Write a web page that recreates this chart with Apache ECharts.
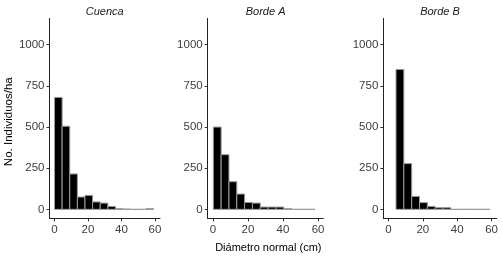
<!DOCTYPE html>
<html>
<head>
<meta charset="utf-8">
<script src="https://cdn.jsdelivr.net/npm/echarts@6/dist/echarts.min.js"></script>
<style>
html, body { margin: 0; padding: 0; background: #fff; }
#main { width: 503px; height: 258px; }
</style>
</head>
<body>
<div id="main"></div>
<script>
// paneles
var panelNames = ['Cuenca', 'Borde A', 'Borde B'];

// limites de clases (cm) por panel
var edgesCuenca = [0, 4.55, 9.1, 13.65, 18.2, 22.75, 27.3, 31.85, 36.4, 40.95, 45.5, 50.05, 54.6, 59.15];
var edgesBordeA = [0.2, 4.67, 9.14, 13.61, 18.08, 22.55, 27.02, 31.49, 35.96, 40.43, 44.9, 49.37, 53.84, 58.31];
var edgesBordeB = [4.4, 8.96, 13.52, 18.08, 22.64, 27.2, 31.76, 36.32, 40.88, 45.44, 50.0, 54.56, 59.12];

// individuos/ha por clase
var countsCuenca = [680, 505, 215, 75, 85, 45, 38, 18, 4, 2, 0, 0, 4];
var countsBordeA = [500, 332, 168, 93, 42, 38, 14, 14, 14, 4, 0, 0, 0];
var countsBordeB = [850, 278, 79, 41, 18, 10, 10, 0, 0, 0, 0, 0];

var xTicks = [0, 20, 40, 60];
var yTicks = [0, 250, 500, 750, 1000];

var fontFam = '"Liberation Sans", Arial, sans-serif';

//armar datos [x0, x1, y]
function buildBins(edges, counts) {
	var out = [];
	for (var i = 0; i < counts.length; i++) {
		out.push([edges[i], edges[i + 1], counts[i]]);
	}
	return out;
}

function renderBin(params, api) {
	var p0 = api.coord([api.value(0), api.value(2)]);
	var p1 = api.coord([api.value(1), 0]);
	return {
		type : 'rect',
		shape : {
			x : p0[0],
			y : p0[1],
			width : p1[0] - p0[0],
			height : p1[1] - p0[1]
		},
		style : {
			fill : '#000',
			stroke : '#9c9c9c',
			lineWidth : 1
		}
	};
}

function plainNum(v) {
	return String(v);
}

var grids = [
	{ left : 49.5, top : 18.4, width : 110.5, height : 200 },
	{ left : 207.7, top : 18.4, width : 115.6, height : 200 },
	{ left : 383.3, top : 18.4, width : 113.4, height : 200 }
];

var xAxes = [], yAxes = [], series = [];
var allData = [
	buildBins(edgesCuenca, countsCuenca),
	buildBins(edgesBordeA, countsBordeA),
	buildBins(edgesBordeB, countsBordeB)
];

for (var i = 0; i < 3; i++) {
	xAxes.push({
		type : 'value',
		gridIndex : i,
		min : -3,
		max : 63,
		splitLine : { show : false },
		axisLine : { onZero : false, lineStyle : { color : '#222', width : 1 } },
		axisTick : { show : true, length : 3, customValues : xTicks, lineStyle : { color : '#333' } },
		axisLabel : { customValues : xTicks, formatter : plainNum, margin : 5, color : '#3d3d3d', fontSize : 11.5, fontFamily : fontFam }
	});
	yAxes.push({
		type : 'value',
		gridIndex : i,
		min : -55,
		max : 1160,
		splitLine : { show : false },
		axisLine : { show : true, onZero : false, lineStyle : { color : '#222', width : 1 } },
		axisTick : { show : true, length : 3, customValues : yTicks, lineStyle : { color : '#333' } },
		axisLabel : { customValues : yTicks, formatter : plainNum, margin : 5, color : '#3d3d3d', fontSize : 11.5, fontFamily : fontFam }
	});
	series.push({
		type : 'custom',
		xAxisIndex : i,
		yAxisIndex : i,
		renderItem : renderBin,
		encode : { x : [0, 1], y : 2 },
		data : allData[i],
		silent : true
	});
}

var titleX = [104.7, 265.6, 440];
var graphics = [];
for (var j = 0; j < 3; j++) {
	graphics.push({
		type : 'text',
		x : titleX[j],
		y : 11.7,
		style : {
			text : panelNames[j],
			fontSize : 11,
			fontStyle : 'italic',
			fontFamily : fontFam,
			fill : '#1a1a1a',
			align : 'center',
			verticalAlign : 'middle'
		}
	});
}
graphics.push({
	type : 'text',
	x : 9,
	y : 121.7,
	rotation : Math.PI / 2,
	style : {
		text : 'No. Individuos/ha',
		fontSize : 11.5,
		fontFamily : fontFam,
		fill : '#000',
		align : 'center',
		verticalAlign : 'middle'
	}
});
graphics.push({
	type : 'text',
	x : 268.3,
	y : 247.5,
	style : {
		text : 'Diámetro normal (cm)',
		fontSize : 11,
		fontFamily : fontFam,
		fill : '#000',
		align : 'center',
		verticalAlign : 'middle'
	}
});

var myChart = echarts.init(document.getElementById('main'), null, { renderer : 'canvas' });
myChart.setOption({
	animation : false,
	backgroundColor : '#fff',
	grid : grids,
	xAxis : xAxes,
	yAxis : yAxes,
	series : series,
	graphic : graphics
});
</script>
</body>
</html>
